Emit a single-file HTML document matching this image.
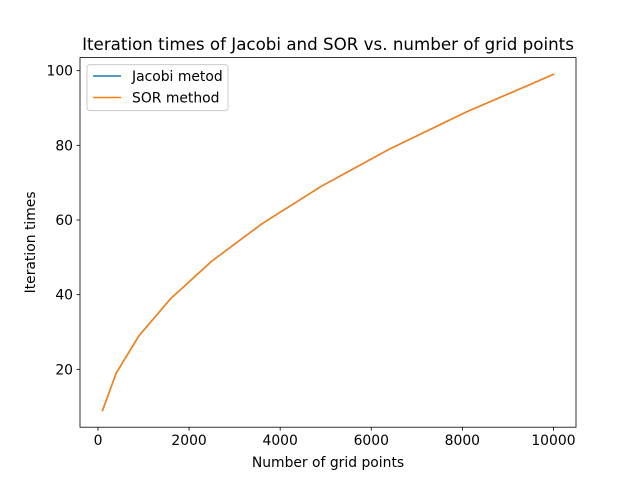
<!DOCTYPE html>
<html><head><meta charset="utf-8"><style>
body{margin:0;background:#fff;}
svg text{font-family:"DejaVu Sans","Liberation Sans",sans-serif;fill:#000;}
</style></head><body>
<svg id="chart" width="640" height="480" xmlns="http://www.w3.org/2000/svg">
<rect width="640" height="480" fill="#fff"/>
<text x="328" y="50" font-size="16.7" text-anchor="middle">Iteration times of Jacobi and SOR vs. number of grid points</text>
<g id="xticks"></g>
<g id="yticks"></g>
<g id="series"></g>
<rect x="80" y="57.6" width="496" height="369.6" fill="none" stroke="#000" stroke-width="0.8"/>
<text x="328" y="467" font-size="13.9" text-anchor="middle">Number of grid points</text>
<text transform="translate(35,242.4) rotate(-90)" font-size="13.9" text-anchor="middle">Iteration times</text>
<g>
<rect x="87" y="64.6" width="141" height="46" rx="3" fill="#fff" fill-opacity="0.8" stroke="#ccc" stroke-width="1"/>
<g>
<line x1="93" y1="76" x2="121" y2="76" stroke="#1f77b4" stroke-width="1.5"/>
<text x="132" y="81" font-size="13.9">Jacobi metod</text></g>
<g>
<line x1="93" y1="97.5" x2="121" y2="97.5" stroke="#ff7f0e" stroke-width="1.5"/>
<text x="132" y="102.5" font-size="13.9">SOR method</text></g>
</g>
</svg>
<script>
const gridPoints=[100,400,900,1600,2500,3600,4900,6400,8100,10000];
const jacobiIters=[9,19,29,39,49,59,69,79,89,99];
const sorIters=[9,19,29,39,49,59,69,79,89,99];
const xTickVals=[0,2000,4000,6000,8000,10000];
const yTickVals=[20,40,60,80,100];
const NS="http://www.w3.org/2000/svg";
const X0=80,X1=576,Y0=427.2,Y1=57.6;
const xmin=Math.min(...gridPoints),xmax=Math.max(...gridPoints);
const xpad=(xmax-xmin)*0.05;
const allY=jacobiIters.concat(sorIters);
const ymin=Math.min(...allY),ymax=Math.max(...allY),ypad=(ymax-ymin)*0.05;
function sx(v){return X0+(v-(xmin-xpad))/((xmax+xpad)-(xmin-xpad))*(X1-X0);}
function sy(v){return Y0-(v-(ymin-ypad))/((ymax+ypad)-(ymin-ypad))*(Y0-Y1);}
function mk(t,a,p){const e=document.createElementNS(NS,t);for(const k in a)e.setAttribute(k,a[k]);p.appendChild(e);return e;}
const xg=document.getElementById('xticks'),yg=document.getElementById('yticks'),sg=document.getElementById('series');
xTickVals.forEach(v=>{const x=sx(v);
const l=mk('line',{x1:x,x2:x,y1:Y0,y2:Y0+3.5,stroke:'#000','stroke-width':0.8},xg);


const t=mk('text',{x:x,y:Y0+18,'font-size':13.9,'text-anchor':'middle'},xg);t.textContent=v;

});
yTickVals.forEach(v=>{const y=sy(v);
const l=mk('line',{x1:X0-3.5,x2:X0,y1:y,y2:y,stroke:'#000','stroke-width':0.8},yg);


const t=mk('text',{x:X0-7,y:y+5,'font-size':13.9,'text-anchor':'end'},yg);t.textContent=v;

});
function line(ys,color,name){const p=mk('polyline',{points:gridPoints.map((x,i)=>sx(x)+','+sy(ys[i])).join(' '),fill:'none',stroke:color,'stroke-width':1.5,'stroke-linejoin':'round','stroke-linecap':'square'},sg);

}
line(jacobiIters,'#1f77b4','jacobi-line');
line(sorIters,'#ff7f0e','sor-line');
</script>
</body></html>
